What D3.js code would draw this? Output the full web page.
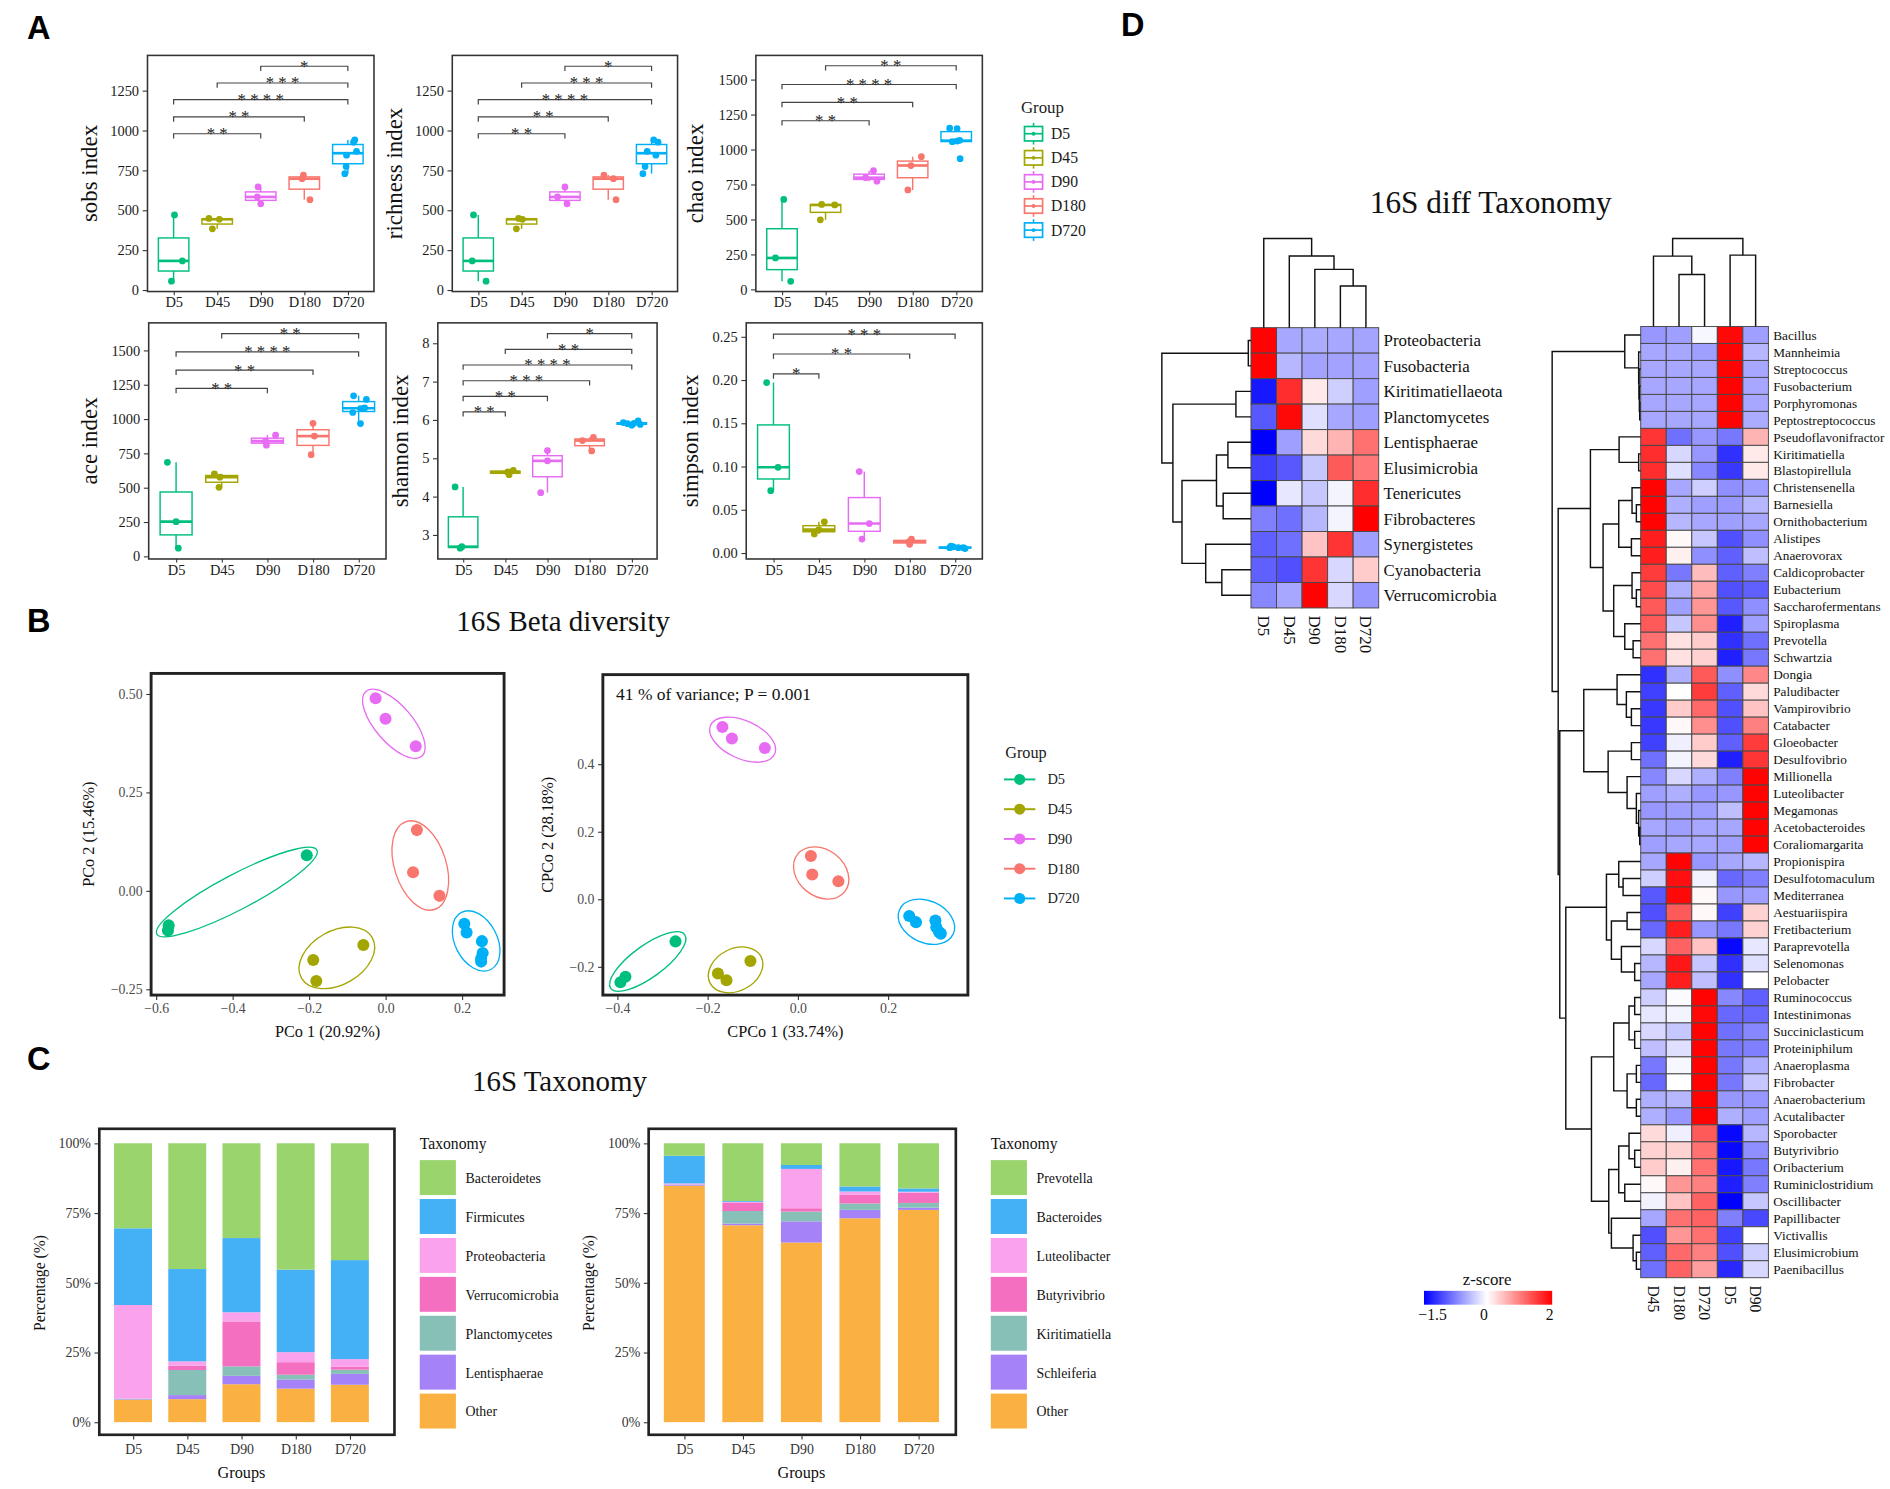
<!DOCTYPE html>
<html><head><meta charset="utf-8">
<script src="https://cdn.jsdelivr.net/npm/d3@7"></script>
<style>body{margin:0;background:#fff}</style>
</head><body>
<script>
// ---------------- DATA ----------------
const groups = ["D5","D45","D90","D180","D720"];
const groupColors = ["#00BF7D","#A3A500","#E76BF3","#F8766D","#00B0F6"];

// Panel A: alpha diversity samples per group
const sobsValues = [[470,182,55],[448,443,383],[646,583,540],[720,697,566],[940,926,869,845,773,729]];
const sobsJitter = [[0.02,0.2,-0.05],[-0.19,0.05,-0.11],[-0.06,-0.08,0.0],[-0.02,-0.05,0.13],[0.16,0.13,0.2,-0.03,-0.04,-0.07]];
const richnessValues = [[470,182,55],[448,443,383],[646,583,540],[720,697,566],[940,926,869,845,773,729]];
const richnessJitter = [[-0.11,-0.14,0.18],[-0.07,0.02,-0.12],[0.0,-0.17,0.05],[-0.1,0.12,0.18],[0.05,0.15,-0.1,0.1,-0.15,-0.2]];
const chaoValues = [[642,224,57],[607,603,497],[848,798,773],[948,885,710],[1152,1148,1055,1060,1065,934]];
const chaoJitter = [[0.04,-0.15,0.2],[-0.09,0.21,-0.12],[0.1,-0.08,0.18],[0.2,-0.04,-0.11],[-0.15,0.02,-0.09,0.02,0.08,0.09]];
const aceValues = [[684,252,59],[600,576,502],[882,838,809],[968,875,740],[1169,1142,1080,1076,1047,966]];
const aceJitter = [[-0.19,0,0.05],[-0.16,-0.04,-0.06],[0.18,-0.04,-0.02],[0,0.03,-0.04],[-0.11,0.17,0.13,0.04,-0.13,0.04]];
const shannonValues = [[4.25,2.69,2.65],[4.68,4.64,4.57],[5.20,4.93,4.10],[5.54,5.46,5.19],[5.97,5.93,5.91,5.90,5.88,5.86]];
const shannonJitter = [[-0.19,-0.03,-0.07],[0.19,0.06,0.09],[0,0,-0.16],[0.09,-0.17,0.05],[0.15,-0.2,0.05,-0.1,0.2,0]];
const simpsonValues = [[0.197,0.099,0.072],[0.036,0.027,0.022],[0.094,0.034,0.016],[0.016,0.013,0.010],[0.008,0.007,0.006,0.006,0.005,0.006]];
const simpsonJitter = [[-0.15,0.1,-0.06],[0.12,0,-0.1],[-0.11,0.11,-0.05],[0.04,-0.01,0],[-0.09,-0.04,0.07,0.18,0.22,-0.12]];

// significance brackets: [from, to, value, number of stars]
const sobsSig = [["D90","D720",1402,1],["D45","D720",1297,3],["D5","D720",1193,4],["D5","D180",1085,2],["D5","D90",979,2]];
const richnessSig = [["D90","D720",1402,1],["D45","D720",1297,3],["D5","D720",1193,4],["D5","D180",1085,2],["D5","D90",979,2]];
const chaoSig = [["D45","D720",1598,2],["D5","D720",1464,4],["D5","D180",1336,2],["D5","D90",1205,2]];
const aceSig = [["D45","D720",1622,2],["D5","D720",1488,4],["D5","D180",1355,2],["D5","D90",1223,2]];
const shannonSig = [["D90","D720",8.25,1],["D45","D720",7.84,2],["D5","D720",7.43,4],["D5","D180",7.02,3],["D5","D90",6.61,2],["D5","D45",6.21,2]];
const simpsonSig = [["D5","D720",0.253,3],["D5","D180",0.230,2],["D5","D45",0.207,1]];

const ticks1250 = [0,250,500,750,1000,1250];
const ticks1500 = [0,250,500,750,1000,1250,1500];
const shannonTicks = [3,4,5,6,7,8];
const simpsonTicks = [0,0.05,0.10,0.15,0.20,0.25];

// Panel B: ordination coordinates
const pcoaX = [[-0.206,-0.567,-0.569],[-0.058,-0.189,-0.181],[-0.026,0.0,0.079],[0.082,0.072,0.141],[0.206,0.212,0.252,0.254,0.250,0.250]];
const pcoaY = [[0.090,-0.088,-0.101],[-0.138,-0.176,-0.229],[0.489,0.437,0.367],[0.154,0.047,-0.013],[-0.084,-0.106,-0.128,-0.158,-0.172,-0.180]];
const cpcoaX = [[-0.271,-0.382,-0.393],[-0.105,-0.177,-0.158],[-0.167,-0.146,-0.073],[0.029,0.032,0.090],[0.247,0.262,0.305,0.307,0.313,0.317]];
const cpcoaY = [[-0.125,-0.230,-0.246],[-0.183,-0.220,-0.240],[0.510,0.476,0.448],[0.128,0.073,0.053],[-0.050,-0.068,-0.063,-0.083,-0.097,-0.102]];
const pcoaXTicks = [-0.6,-0.4,-0.2,0.0,0.2];
const pcoaYTicks = [-0.25,0,0.25,0.5];
const cpcoaXTicks = [-0.4,-0.2,0.0,0.2];
const cpcoaYTicks = [-0.2,0,0.2,0.4];

// Panel C: relative abundance (%), legend order
const phylumKeys = ["Bacteroidetes","Firmicutes","Proteobacteria","Verrucomicrobia","Planctomycetes","Lentisphaerae","Other"];
const phylumValues = [[30.5,27.5,33.5,0.1,0.2,0.2,8.0],[45.1,33.1,1.6,1.5,9.0,1.45,8.25],[34.0,26.6,3.3,16.1,3.4,3.0,13.6],[45.3,29.6,3.6,4.5,1.7,3.3,12.0],[41.9,35.5,2.7,1.1,1.5,3.9,13.4]];
const genusKeys = ["Prevotella","Bacteroides","Luteolibacter","Butyrivibrio","Kiritimatiella","Schleiferia","Other"];
const genusValues = [[4.5,9.9,0.3,0.1,0.1,0.3,84.8],[20.7,0.3,0.4,2.9,4.5,0.6,70.6],[7.8,1.4,14.1,1.2,3.5,7.6,64.4],[15.5,1.8,1.2,3.1,2.3,3.0,73.1],[16.2,1.2,0.3,3.7,1.7,0.8,76.1]];
const taxColors = ["#99D46C","#44B0F5","#FAA2EC","#F46FC0","#86C0B6","#A582F7","#FAB141"];
const pctTicks = [0,0.25,0.5,0.75,1];

// Panel D: heatmaps (row z-scores)
const leftCols = ["D5","D45","D90","D180","D720"];
const leftTaxa = ["Proteobacteria","Fusobacteria","Kiritimatiellaeota","Planctomycetes","Lentisphaerae","Elusimicrobia","Tenericutes","Fibrobacteres","Synergistetes","Cyanobacteria","Verrucomicrobia"];
const leftZ = [
 [1.79,-0.45,-0.42,-0.45,-0.47],[1.79,-0.35,-0.48,-0.48,-0.48],[-1.35,1.5,0.25,-0.2,-0.5],[-0.95,1.75,-0.1,-0.45,-0.5],
 [-1.5,-0.5,0.35,0.6,1.05],[-1.1,-0.95,-0.25,1.2,1.0],[-1.5,-0.05,-0.25,0.03,1.5],[-0.7,-0.8,-0.35,0.03,1.8],
 [-0.9,-0.8,0.5,1.45,-0.5],[-0.9,-1.0,1.45,-0.15,0.45],[-0.65,-0.45,1.78,-0.15,-0.55]];
const leftRowTree = [1.0,[0.03,"Proteobacteria","Fusobacteria"],[0.876,[0.169,"Kiritimatiellaeota","Planctomycetes"],[0.774,[0.387,[0.259,"Lentisphaerae","Elusimicrobia"],[0.312,"Tenericutes","Fibrobacteres"]],[0.508,"Synergistetes",[0.327,"Cyanobacteria","Verrucomicrobia"]]]]];
const leftColTree = [1.0,"D5",[0.803,"D45",[0.654,"D90",[0.468,"D180","D720"]]]];

const rightCols = ["D45","D180","D720","D5","D90"];
const rightTaxa = ["Bacillus","Mannheimia","Streptococcus","Fusobacterium","Porphyromonas","Peptostreptococcus","Pseudoflavonifractor","Kiritimatiella","Blastopirellula","Christensenella","Barnesiella","Ornithobacterium","Alistipes","Anaerovorax","Caldicoprobacter","Eubacterium","Saccharofermentans","Spiroplasma","Prevotella","Schwartzia","Dongia","Paludibacter","Vampirovibrio","Catabacter","Gloeobacter","Desulfovibrio","Millionella","Luteolibacter","Megamonas","Acetobacteroides","Coraliomargarita","Propionispira","Desulfotomaculum","Mediterranea","Aestuariispira","Fretibacterium","Paraprevotella","Selenomonas","Pelobacter","Ruminococcus","Intestinimonas","Succiniclasticum","Proteiniphilum","Anaeroplasma","Fibrobacter","Anaerobacterium","Acutalibacter","Sporobacter","Butyrivibrio","Oribacterium","Ruminiclostridium","Oscillibacter","Papillibacter","Victivallis","Elusimicrobium","Paenibacillus"];
const rightZ = [
 [-0.55,-0.5,0.05,1.75,-0.5],[-0.45,-0.45,-0.5,1.78,-0.35],[-0.45,-0.45,-0.45,1.79,-0.45],[-0.45,-0.45,-0.45,1.79,-0.45],
 [-0.45,-0.45,-0.45,1.79,-0.45],[-0.45,-0.45,-0.45,1.79,-0.42],[1.45,-0.8,-0.55,-0.75,0.6],[1.5,-0.15,-0.55,-1.2,0.25],
 [1.5,-0.1,-0.65,-1.15,0.25],[1.78,-0.45,-0.2,-0.6,-0.5],[1.78,-0.4,-0.5,-0.55,-0.35],[1.78,-0.35,-0.45,-0.5,-0.45],
 [1.6,0.15,-0.25,-1.0,-0.6],[1.6,0.2,-0.6,-0.9,-0.3],[1.4,-0.75,0.55,-0.9,-0.7],[1.3,-0.4,0.7,-1.0,-0.9],
 [1.2,-0.5,0.8,-0.95,-0.6],[1.2,-0.25,0.85,-1.3,-0.5],[1.05,0.3,0.45,-1.2,-0.8],[1.05,0.3,0.4,-1.3,-0.75],
 [-1.2,-0.4,1.2,-0.6,0.9],[-1.1,0.1,1.4,-0.9,0.35],[-1.15,0.45,1.1,-1.0,0.5],[-1.15,0.15,0.85,-1.0,0.95],
 [-1.1,0.0,0.45,-0.9,1.4],[-0.8,0.03,0.35,-1.3,1.45],[-0.65,-0.15,-0.4,-0.7,1.78],[-0.5,-0.4,-0.55,-0.55,1.79],
 [-0.55,-0.5,-0.5,-0.3,1.79],[-0.45,-0.5,-0.45,-0.45,1.79],[-0.5,-0.45,-0.45,-0.5,1.79],[-0.45,1.79,-0.55,-0.45,-0.35],
 [-0.2,1.7,0.02,-0.85,-0.7],[-0.95,1.75,0.15,-0.55,-0.5],[-1.0,1.2,0.15,-1.1,0.4],[-0.85,1.6,-0.55,-0.75,0.4],
 [-0.15,1.15,0.5,-1.45,-0.05],[-0.35,1.65,-0.25,-1.2,-0.1],[-0.45,1.6,-0.3,-1.2,0.1],[-0.2,0.07,1.78,-0.65,-0.9],
 [-0.05,0.03,1.75,-0.85,-0.85],[-0.15,-0.25,1.78,-0.8,-0.65],[-0.3,-0.1,1.78,-0.75,-0.7],[-0.75,0.05,1.78,-0.75,-0.4],
 [-0.85,0.1,1.78,-0.75,-0.25],[-0.4,-0.35,1.79,-0.55,-0.55],[-0.4,-0.55,1.79,-0.4,-0.5],[0.35,0.0,1.2,-1.45,-0.35],
 [0.4,0.4,1.05,-1.45,-0.6],[0.45,0.2,1.05,-1.35,-0.75],[0.15,0.8,0.95,-1.3,-0.7],[0.02,0.5,1.15,-1.5,-0.25],
 [-0.45,1.05,1.15,-0.7,-1.05],[-1.0,0.8,1.05,-1.1,0.1],[-0.9,1.1,0.95,-1.0,-0.2],[-0.8,1.15,0.75,-1.25,-0.15]];
const rightRowTree = [1.0,
  [0.18,"Bacillus",[0.023,"Mannheimia",[0.019,"Streptococcus",[0.015,"Fusobacterium",[0.011,"Porphyromonas","Peptostreptococcus"]]]]],
  [0.932,
    [0.568,
      [0.244,"Pseudoflavonifractor",[0.023,"Kiritimatiella","Blastopirellula"]],
      [0.425,
        [0.248,[0.098,"Christensenella",[0.049,"Barnesiella","Ornithobacterium"]],[0.105,"Alistipes","Anaerovorax"]],
        [0.305,[0.098,"Caldicoprobacter",[0.049,"Eubacterium","Saccharofermentans"]],[0.18,"Spiroplasma",[0.086,"Prevotella","Schwartzia"]]]]],
    [0.914,
      [0.643,
        [0.267,"Dongia",[0.162,"Paludibacter",[0.105,"Vampirovibrio","Catabacter"]]],
        [0.368,[0.105,"Gloeobacter","Desulfovibrio"],[0.154,"Millionella",[0.049,"Luteolibacter",[0.023,"Megamonas",[0.011,"Acetobacteroides","Coraliomargarita"]]]]]],
      [0.846,
        [0.387,
          [0.248,"Propionispira",[0.199,"Desulfotomaculum","Mediterranea"]],
          [0.331,[0.154,"Aestuariispira","Fretibacterium"],[0.218,"Paraprevotella",[0.068,"Selenomonas","Pelobacter"]]]],
        [0.556,
          [0.305,[0.132,[0.068,"Ruminococcus","Intestinimonas"],[0.068,"Succiniclasticum","Proteiniphilum"]],[0.154,[0.049,"Anaeroplasma","Fibrobacter"],[0.049,"Anaerobacterium","Acutalibacter"]]],
          [0.361,[0.248,[0.132,"Sporobacter",[0.068,"Butyrivibrio","Oribacterium"]],[0.18,"Ruminiclostridium","Oscillibacter"]],
                 [0.331,"Papillibacter",[0.086,"Victivallis",[0.049,"Elusimicrobium","Paenibacillus"]]]]]]]]];
const rightColTree = [1.0,[0.8,"D45",[0.592,"D180","D720"]],[0.811,"D5","D90"]];
const zLegendTicks = [-1.5,0,2];

// ---------------- DRAWING ----------------
const SERIF = "'Liberation Serif','Times New Roman',serif";
const SANS = "'Liberation Sans',Arial,sans-serif";
const svg = d3.select("body").append("svg").attr("width",1890).attr("height",1489)
  .attr("viewBox","0 0 1568 1236");
svg.append("rect").attr("width",1568).attr("height",1236).attr("fill","#fff");

function text(g,x,y,s,o={}){
  return g.append("text").attr("x",x).attr("y",y).text(s)
    .attr("font-family",o.family||SERIF).attr("font-size",o.size||12)
    .attr("font-weight",o.weight||"normal").attr("fill",o.fill||"#1a1a1a")
    .attr("text-anchor",o.anchor||"start");
}
function styleAxis(a,size,fill){
  a.select(".domain").remove();
  a.selectAll("line").attr("stroke","#333").attr("stroke-width",0.9);
  a.selectAll("text").attr("font-family",SERIF).attr("font-size",size).attr("fill",fill);
}

// panel letters
[["A",22,32],["B",22,525],["C",22,888],["D",930,30]].forEach(d=>text(svg,d[1],d[2],d[0],{family:SANS,weight:"bold",size:27,fill:"#000"}));

// ---- Panel A ----
function boxPanel(c){
  const g = svg.append("g");
  const x = d3.scalePoint().domain(groups).range([c.x0,c.x1]).padding(0.6);
  const y = d3.scaleLinear().domain(c.domain).range([c.y1,c.y0]);
  const step = x.step();
  const ya = g.append("g").attr("transform",`translate(${c.x0},0)`)
    .call(d3.axisLeft(y).tickValues(c.ticks).tickFormat(c.fmt).tickSize(4).tickPadding(3));
  const xa = g.append("g").attr("transform",`translate(0,${c.y1})`)
    .call(d3.axisBottom(x).tickSize(3).tickPadding(1.5));
  styleAxis(ya,12,"#1a1a1a"); styleAxis(xa,12,"#1a1a1a");
  g.append("rect").attr("x",c.x0).attr("y",c.y0).attr("width",c.x1-c.x0).attr("height",c.y1-c.y0)
    .attr("fill","none").attr("stroke","#333").attr("stroke-width",1.3);
  g.append("text").attr("transform",`translate(${c.titleX},${(c.y0+c.y1)/2}) rotate(-90)`)
    .attr("text-anchor","middle").attr("font-family",SERIF).attr("font-size",19).attr("fill","#111").text(c.title);
  groups.forEach((gr,i)=>{
    const col = groupColors[i];
    const vals = c.values[i].slice().sort(d3.ascending);
    const q1 = d3.quantile(vals,0.25), md = d3.quantile(vals,0.5), q3 = d3.quantile(vals,0.75);
    const iqr = q3-q1;
    const lo = d3.min(vals.filter(v=>v>=q1-1.5*iqr)), hi = d3.max(vals.filter(v=>v<=q3+1.5*iqr));
    const cx = x(gr), bw = step*0.7;
    g.append("line").attr("x1",cx).attr("x2",cx).attr("y1",y(q3)).attr("y2",y(hi)).attr("stroke",col).attr("stroke-width",1.2);
    g.append("line").attr("x1",cx).attr("x2",cx).attr("y1",y(q1)).attr("y2",y(lo)).attr("stroke",col).attr("stroke-width",1.2);
    g.append("rect").attr("x",cx-bw/2).attr("width",bw).attr("y",y(q3)).attr("height",Math.max(0.5,y(q1)-y(q3)))
      .attr("fill","#fff").attr("stroke",col).attr("stroke-width",1.2);
    g.append("line").attr("x1",cx-bw/2).attr("x2",cx+bw/2).attr("y1",y(md)).attr("y2",y(md)).attr("stroke",col).attr("stroke-width",2.2);
    c.values[i].forEach((v,j)=>{
      g.append("circle").attr("cx",cx+c.jitter[i][j]*step).attr("cy",y(v)).attr("r",2.8).attr("fill",col);
    });
  });
  c.sig.forEach(s=>{
    const xa1 = x(s[0]), xb = x(s[1]), yy = y(s[2]);
    g.append("path").attr("d",`M${xa1},${yy+4}V${yy}H${xb}V${yy+4}`).attr("fill","none").attr("stroke","#444").attr("stroke-width",1);
    text(g,(xa1+xb)/2,yy+4.5,Array(s[3]).fill("*").join(" "),{size:14,anchor:"middle",fill:"#222"});
  });
}
const f0 = d3.format("d"), f2 = d3.format(".2f");
boxPanel({x0:122,x1:310,y0:46,y1:242,domain:[-10,1470],ticks:ticks1250,fmt:f0,title:"sobs index",titleX:80,values:sobsValues,jitter:sobsJitter,sig:sobsSig});
boxPanel({x0:375,x1:562,y0:46,y1:242,domain:[-10,1470],ticks:ticks1250,fmt:f0,title:"richness index",titleX:333,values:richnessValues,jitter:richnessJitter,sig:richnessSig});
boxPanel({x0:627,x1:815,y0:46,y1:242,domain:[-16,1672],ticks:ticks1500,fmt:f0,title:"chao index",titleX:583,values:chaoValues,jitter:chaoJitter,sig:chaoSig});
boxPanel({x0:123,x1:320,y0:268,y1:464,domain:[-20,1700],ticks:ticks1500,fmt:f0,title:"ace index",titleX:80,values:aceValues,jitter:aceJitter,sig:aceSig});
boxPanel({x0:363,x1:545,y0:268,y1:464,domain:[2.37,8.53],ticks:shannonTicks,fmt:f0,title:"shannon index",titleX:338,values:shannonValues,jitter:shannonJitter,sig:shannonSig});
boxPanel({x0:619,x1:815,y0:268,y1:464,domain:[-0.007,0.266],ticks:simpsonTicks,fmt:f2,title:"simpson index",titleX:579,values:simpsonValues,jitter:simpsonJitter,sig:simpsonSig});

// legend A
(function(){
  const g = svg.append("g");
  text(g,847,94,"Group",{size:14,fill:"#222"});
  groups.forEach((gr,i)=>{
    const cy = 111+20*i, col = groupColors[i];
    g.append("line").attr("x1",857.5).attr("x2",857.5).attr("y1",cy-9).attr("y2",cy+9).attr("stroke",col).attr("stroke-width",1.3);
    g.append("rect").attr("x",850).attr("y",cy-6).attr("width",15).attr("height",12).attr("fill","#fff").attr("stroke",col).attr("stroke-width",1.4);
    g.append("line").attr("x1",850).attr("x2",865).attr("y1",cy).attr("y2",cy).attr("stroke",col).attr("stroke-width",1.4);
    g.append("circle").attr("cx",857.5).attr("cy",cy).attr("r",1.6).attr("fill",col);
    text(g,872,cy+4.5,gr,{size:13});
  });
})();

// ---- Panel B ----
text(svg,467,524,"16S Beta diversity",{size:24,anchor:"middle",fill:"#111"});
function scatterPanel(c){
  const g = svg.append("g");
  const x = d3.scaleLinear().domain(c.xd).range([c.x0,c.x1]);
  const y = d3.scaleLinear().domain(c.yd).range([c.y1,c.y0]);
  const xa = g.append("g").attr("transform",`translate(0,${c.y1})`)
    .call(d3.axisBottom(x).tickValues(c.xt).tickFormat(d3.format(".1f")).tickSize(4).tickPadding(3));
  const ya = g.append("g").attr("transform",`translate(${c.x0},0)`)
    .call(d3.axisLeft(y).tickValues(c.yt).tickFormat(d3.format(c.yf)).tickSize(4).tickPadding(3));
  styleAxis(xa,11.5,"#4d4d4d"); styleAxis(ya,11.5,"#4d4d4d");
  groups.forEach((gr,i)=>{
    const pts = c.px[i].map((v,j)=>[x(v),y(c.py[i][j])]);
    const mx = d3.mean(pts,p=>p[0]), my = d3.mean(pts,p=>p[1]);
    let sxx=0,syy=0,sxy=0;
    pts.forEach(p=>{const dx=p[0]-mx,dy=p[1]-my;sxx+=dx*dx;syy+=dy*dy;sxy+=dx*dy;});
    const ang = 0.5*Math.atan2(2*sxy,sxx-syy);
    const ux=Math.cos(ang),uy=Math.sin(ang),vx=-uy,vy=ux;
    const pu = pts.map(p=>(p[0]-mx)*ux+(p[1]-my)*uy), pv = pts.map(p=>(p[0]-mx)*vx+(p[1]-my)*vy);
    const cu=(d3.min(pu)+d3.max(pu))/2, cv=(d3.min(pv)+d3.max(pv))/2;
    const a=(d3.max(pu)-d3.min(pu))/2+9.5, b=(d3.max(pv)-d3.min(pv))/2*1.2+12.5;
    const ex = mx+cu*ux+cv*vx, ey = my+cu*uy+cv*vy;
    g.append("ellipse").attr("cx",ex).attr("cy",ey).attr("rx",a).attr("ry",b)
      .attr("transform",`rotate(${ang*180/Math.PI},${ex},${ey})`)
      .attr("fill","none").attr("stroke",groupColors[i]).attr("stroke-width",1.1);
    pts.forEach(p=>g.append("circle").attr("cx",p[0]).attr("cy",p[1]).attr("r",5).attr("fill",groupColors[i]));
  });
  g.append("rect").attr("x",c.x0).attr("y",c.y0).attr("width",c.x1-c.x0).attr("height",c.y1-c.y0)
    .attr("fill","none").attr("stroke","#222").attr("stroke-width",2.4);
  text(g,(c.x0+c.x1)/2,861,c.xlab,{size:13.5,anchor:"middle",fill:"#111"});
  g.append("text").attr("transform",`translate(${c.ylx},${(c.y0+c.y1)/2}) rotate(-90)`).attr("text-anchor","middle")
    .attr("font-family",SERIF).attr("font-size",13.5).attr("fill","#111").text(c.ylab);
  if(c.note) text(g,c.x0+11,581,c.note,{size:14.5,fill:"#111"});
}
scatterPanel({x0:125,x1:418,y0:559,y1:826,xd:[-0.613,0.31],yd:[-0.265,0.552],xt:pcoaXTicks,yt:pcoaYTicks,yf:".2f",px:pcoaX,py:pcoaY,xlab:"PCo 1 (20.92%)",ylab:"PCo 2 (15.46%)",ylx:78});
scatterPanel({x0:500,x1:803,y0:560,y1:826,xd:[-0.432,0.377],yd:[-0.284,0.665],xt:cpcoaXTicks,yt:cpcoaYTicks,yf:".1f",px:cpcoaX,py:cpcoaY,xlab:"CPCo 1 (33.74%)",ylab:"CPCo 2 (28.18%)",ylx:459,note:"41 % of variance; P = 0.001"});
(function(){
  const g = svg.append("g");
  text(g,834,629,"Group",{size:13.5,fill:"#222"});
  groups.forEach((gr,i)=>{
    const cy = 647+24.7*i;
    g.append("line").attr("x1",833).attr("x2",859).attr("y1",cy).attr("y2",cy).attr("stroke",groupColors[i]).attr("stroke-width",1.6);
    g.append("circle").attr("cx",846).attr("cy",cy).attr("r",4.6).attr("fill",groupColors[i]);
    text(g,869,cy+4,gr,{size:12,fill:"#222"});
  });
})();

// ---- Panel C ----
text(svg,464,906,"16S Taxonomy",{size:24,anchor:"middle",fill:"#111"});
function barPanel(c){
  const g = svg.append("g");
  const x = d3.scalePoint().domain(groups).range([c.xa,c.xb]);
  const y = d3.scaleLinear().domain([0,1]).range([1180.5,949]);
  const bw = x.step()*0.7;
  const rows = groups.map((gr,i)=>{const o={group:gr}; c.keys.forEach((k,j)=>o[k]=c.values[i][j]/100); return o;});
  const series = d3.stack().keys(c.keys.slice().reverse())(rows);
  series.forEach(s=>{
    const col = taxColors[c.keys.indexOf(s.key)];
    s.forEach(d=>{
      g.append("rect").attr("x",x(d.data.group)-bw/2).attr("width",bw).attr("y",y(d[1])).attr("height",Math.max(0,y(d[0])-y(d[1]))).attr("fill",col);
    });
  });
  g.append("rect").attr("x",c.x0).attr("y",937).attr("width",c.x1-c.x0).attr("height",254)
    .attr("fill","none").attr("stroke","#222").attr("stroke-width",2.2);
  const ya = g.append("g").attr("transform",`translate(${c.x0},0)`)
    .call(d3.axisLeft(y).tickValues(pctTicks).tickFormat(d3.format(".0%")).tickSize(4).tickPadding(3));
  const xa = g.append("g").attr("transform",`translate(0,1191)`)
    .call(d3.axisBottom(x).tickSize(4).tickPadding(4));
  styleAxis(ya,11.5,"#333"); styleAxis(xa,11.5,"#333");
  text(g,(c.xa+c.xb)/2,1227,"Groups",{size:13.5,anchor:"middle",fill:"#111"});
  g.append("text").attr("transform",`translate(${c.ylx},1065) rotate(-90)`).attr("text-anchor","middle")
    .attr("font-family",SERIF).attr("font-size",13).attr("fill","#111").text("Percentage (%)");
  text(g,c.lx,954,"Taxonomy",{size:13,fill:"#111"});
  c.keys.forEach((k,j)=>{
    const top = 963+32.3*j;
    g.append("rect").attr("x",c.lx).attr("y",top).attr("width",30).attr("height",29).attr("fill",taxColors[j]);
    text(g,c.lx+38,top+19,k,{size:11.5,fill:"#111"});
  });
}
barPanel({x0:82,x1:327,xa:110,xb:290,ylx:37,keys:phylumKeys,values:phylumValues,lx:348});
barPanel({x0:538,x1:793,xa:567.6,xb:762,ylx:493,keys:genusKeys,values:genusValues,lx:822});

// ---- Panel D ----
text(svg,1237,177,"16S diff Taxonomy",{size:26,anchor:"middle",fill:"#111"});
const zColor = d3.scaleLinear().domain([-1.5,0.1,1.8]).range(["#0000FF","#FFFFFF","#FF0000"]).clamp(true);
function toTree(t){return typeof t==="string"?{name:t,h:0}:{h:t[0],children:[toTree(t[1]),toTree(t[2])]};}
function dendro(g,tree,posOf,hScale,horizontal){
  const root = d3.hierarchy(toTree(tree));
  root.eachAfter(n=>{ n.pos = n.children? d3.mean(n.children,c=>c.pos) : posOf(n.data.name); });
  root.each(n=>{
    if(!n.children) return;
    const [a,b] = n.children, hn = hScale(n.data.h);
    const d = horizontal
      ? `M${hScale(a.data.h)},${a.pos}H${hn}V${b.pos}H${hScale(b.data.h)}`
      : `M${a.pos},${hScale(a.data.h)}V${hn}H${b.pos}V${hScale(b.data.h)}`;
    g.append("path").attr("d",d).attr("fill","none").attr("stroke","#111").attr("stroke-width",1.2);
  });
}
function heatmap(c){
  const g = svg.append("g");
  const x = d3.scaleBand().domain(c.cols).range([c.x0,c.x0+c.cw*c.cols.length]);
  const y = d3.scaleBand().domain(c.rows).range([c.y0,c.y0+c.ch*c.rows.length]);
  c.rows.forEach((r,i)=>c.cols.forEach((cl,j)=>{
    g.append("rect").attr("x",x(cl)).attr("y",y(r)).attr("width",x.bandwidth()).attr("height",y.bandwidth())
      .attr("fill",zColor(c.z[i][j])).attr("stroke","#4a4a4a").attr("stroke-width",0.8);
  }));
  c.rows.forEach(r=>text(g,c.x0+c.cw*c.cols.length+4,y(r)+y.bandwidth()/2+c.rf*0.35,r,{size:c.rf,fill:"#111"}));
  c.cols.forEach(cl=>{
    g.append("text").attr("transform",`translate(${x(cl)+x.bandwidth()/2-c.cf*0.33},${c.colLabY}) rotate(90)`)
      .attr("font-family",SERIF).attr("font-size",c.cf).attr("fill","#111").text(cl);
  });
  dendro(g,c.rowTree,n=>y(n)+y.bandwidth()/2,d3.scaleLinear().domain([0,1]).range([c.x0,c.rowRootX]),true);
  dendro(g,c.colTree,n=>x(n)+x.bandwidth()/2,d3.scaleLinear().domain([0,1]).range([c.y0,c.colRootY]),false);
}
heatmap({rows:leftTaxa,cols:leftCols,z:leftZ,x0:1038,y0:272,cw:21.2,ch:21.15,rf:14,cf:14,colLabY:511,rowTree:leftRowTree,colTree:leftColTree,rowRootX:964,colRootY:198});
heatmap({rows:rightTaxa,cols:rightCols,z:rightZ,x0:1361.5,y0:271,cw:21.2,ch:14.1,rf:11,cf:13,colLabY:1067,rowTree:rightRowTree,colTree:rightColTree,rowRootX:1288,colRootY:198});

// z-score legend
(function(){
  const g = svg.append("g");
  const defs = svg.append("defs");
  const lg = defs.append("linearGradient").attr("id","zgrad");
  lg.append("stop").attr("offset","0%").attr("stop-color","#0000FF");
  lg.append("stop").attr("offset","49%").attr("stop-color","#FFFFFF");
  lg.append("stop").attr("offset","100%").attr("stop-color","#FF0000");
  g.append("rect").attr("x",1181.6).attr("y",1071.5).attr("width",106.4).attr("height",11.5).attr("fill","url(#zgrad)");
  text(g,1234,1067,"z-score",{size:14,anchor:"middle",fill:"#111"});
  const s = d3.scaleLinear().domain([-1.75,2]).range([1181.6,1288]);
  zLegendTicks.forEach(t=>text(g,s(t)-(t===2?2:0),1096,d3.format("")(t).replace("-","\u2212"),{size:13,anchor:"middle",fill:"#111"}));
})();
</script>
</body></html>
